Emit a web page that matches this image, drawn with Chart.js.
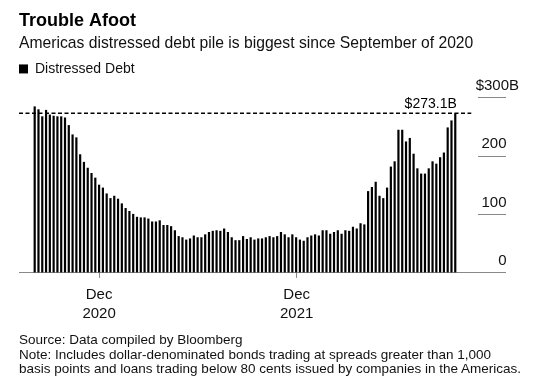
<html>
<head>
<meta charset="utf-8">
<script src="https://cdn.jsdelivr.net/npm/chart.js"></script>
<style>
  body { margin: 0; background: #fff; font-family: 'Liberation Sans', Arial, sans-serif; }
  #wrap { position: relative; width: 542px; height: 337px; }
  #notes { position: absolute; left: 19px; top: 333px; font-size: 13.5px; line-height: 14.5px; color: #111; white-space: nowrap; }
</style>
</head>
<body>
<div id="wrap"><canvas id="chart"></canvas></div>
<div id="notes">Source: Data compiled by Bloomberg<br>Note: Includes dollar-denominated bonds trading at spreads greater than 1,000<br>basis points and loans trading below 80 cents issued by companies in the Americas.</div>
<script>
// weekly readings, $ billions, first bar = week of Aug 4 2020
const debt = [
  285, 280, 268, 279, 271, 269, 268, 268, 266, 253,
  237, 232, 203, 190, 180, 171, 163, 151, 146, 136,
  128, 132, 127, 119, 111, 106, 101, 96, 95, 95,
  93, 88, 88, 90, 82, 82, 80, 73, 63, 61,
  57, 59, 64, 61, 61, 66, 70, 72, 73, 72,
  76, 70, 61, 56, 56, 63, 58, 61, 57, 59,
  59, 61, 63, 61, 63, 70, 66, 61, 66, 61,
  57, 55, 61, 64, 66, 64, 73, 73, 67, 70,
  73, 67, 73, 72, 79, 76, 85, 83, 140, 147,
  156, 132, 128, 146, 182, 191, 245, 245, 225, 231,
  204, 179, 170, 170, 179, 191, 187, 198, 206, 249,
  261, 273.1
];
const latest = 273.1;
const latestLabel = '$273.1B';
// week offsets of Dec 1 2020 / Dec 1 2021
const tickWeeks = [17, 69.14];
const tickLabels = [['Dec', '2020'], ['Dec', '2021']];
const yTicks = [0, 100, 200, 300];

Chart.defaults.font.family = "'Liberation Sans', Arial, sans-serif";
Chart.defaults.color = '#000';

const refLine = {
  id: 'refLine',
  afterDatasetsDraw(chart) {
    const {ctx, chartArea, scales: {x, y}} = chart;
    const yy = y.getPixelForValue(latest);
    const xLast = x.getPixelForValue(debt.length - 1);
    ctx.save();
    ctx.strokeStyle = '#000';
    ctx.lineWidth = 1.5;
    ctx.setLineDash([4, 2.5]);
    ctx.beginPath();
    ctx.moveTo(chartArea.left, yy);
    ctx.lineTo(xLast + 16, yy);
    ctx.stroke();
    ctx.setLineDash([]);
    ctx.fillStyle = '#000';
    ctx.font = "14px 'Liberation Sans', Arial, sans-serif";
    ctx.textAlign = 'right';
    ctx.textBaseline = 'middle';
    ctx.fillText(latestLabel, xLast + 1.5, yy - 9.5);
    ctx.restore();
  }
};

const ctx = document.getElementById('chart');
const chart = new Chart(ctx, {
  type: 'bar',
  data: {
    datasets: [{
      label: 'Distressed Debt',
      data: debt.map((v, i) => ({x: i, y: v})),
      backgroundColor: '#000',
      borderWidth: 0,
      barPercentage: 0.58,
      categoryPercentage: 1
    }]
  },
  options: {
    responsive: true,
    maintainAspectRatio: false,
    animation: false,
    layout: { padding: { left: 19, right: 28, top: 0, bottom: 6 } },
    plugins: {
      title: {
        display: true, text: 'Trouble Afoot', align: 'start', color: '#000',
        font: { size: 18, weight: 'bold' }, padding: { top: 10, bottom: 0 }
      },
      subtitle: {
        display: true, text: 'Americas distressed debt pile is biggest since September of 2020',
        align: 'start', color: '#111', font: { size: 15.7 }, padding: { top: 3, bottom: 8.5 }
      },
      legend: {
        display: true, align: 'start',
        labels: { boxWidth: 9, boxHeight: 9, padding: 0, color: '#111', font: { size: 14 } }
      },
      tooltip: { enabled: false }
    },
    scales: {
      x: {
        type: 'linear', min: -4.14, max: 117, offset: false,
        afterBuildTicks: s => { s.ticks = tickWeeks.map(v => ({value: v})); },
        grid: { display: true, offset: false, drawOnChartArea: false, drawTicks: true, tickLength: 5, color: '#888' },
        border: { display: true, color: '#888' },
        ticks: {
          autoSkip: false, maxRotation: 0, padding: 7.5, color: '#111',
          font: { size: 15, lineHeight: 1.27 },
          callback: (v, i) => tickLabels[i]
        }
      },
      y: {
        position: 'right', min: 0, max: 320,
        afterBuildTicks: s => { s.ticks = yTicks.map(v => ({value: v})); },
        afterFit: s => { s.width = 36; },
        grid: { drawOnChartArea: false, drawTicks: true, tickLength: 28, color: '#888' },
        border: { display: false },
        ticks: {
          mirror: true, crossAlign: 'near', labelOffset: -12, padding: 41, color: '#111',
          font: { size: 15 },
          callback: v => v === 300 ? '$300B' : v + '   '
        }
      }
    }
  },
  plugins: [refLine]
});
</script>
</body>
</html>
